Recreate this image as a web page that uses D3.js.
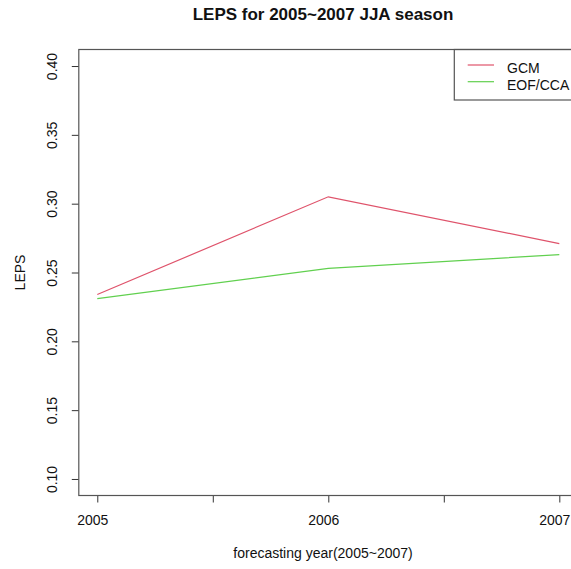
<!DOCTYPE html>
<html>
<head>
<meta charset="utf-8">
<script src="https://cdn.jsdelivr.net/npm/d3@7"></script>
<style>
  body { margin: 0; background: #fff; }
  svg { display: block; font-family: "Liberation Sans", Arial, sans-serif; }
</style>
</head>
<body>
<svg id="chart"></svg>
<script>
var years = [2005, 2006, 2007];
var gcm = [0.234, 0.305, 0.271];
var eofCca = [0.231, 0.253, 0.263];
var seriesNames = ["GCM", "EOF/CCA"];
var seriesColors = ["#DF536B", "#61D04F"];
var xTicks = [2005, 2005.5, 2006, 2006.5, 2007];
var yTicks = [0.10, 0.15, 0.20, 0.25, 0.30, 0.35, 0.40];

var width = 571;
var height = 569;
var margin = { top: 49.5, left: 78.8, bottom: 73.5 };
var plotRight = 577.8;

var svg = d3.select("#chart")
  .attr("width", width)
  .attr("height", height);

// R style 4% padding on both axes
var x = d3.scaleLinear()
  .domain([2005 - 0.08, 2007 + 0.08])
  .range([margin.left, plotRight]);
var y = d3.scaleLinear()
  .domain([0.088, 0.412])
  .range([height - margin.bottom, margin.top]);

var line = d3.line()
  .x(function(d) { return x(d[0]); })
  .y(function(d) { return y(d[1]); });

var series = [gcm, eofCca];
series.forEach(function(vals, i) {
  svg.append("path")
    .datum(years.map(function(yr, j) { return [yr, vals[j]]; }))
    .attr("fill", "none")
    .attr("stroke", seriesColors[i])
    .attr("stroke-width", 1.2)
    .attr("d", line);
});

// x axis
var xAxis = svg.append("g")
  .attr("transform", "translate(0," + (height - margin.bottom) + ")")
  .call(d3.axisBottom(x)
    .tickValues(xTicks)
    .tickSize(7)
    .tickPadding(13)
    .tickFormat(function(d) { return d % 1 === 0 ? d : ""; }));
xAxis.select(".domain").remove();
xAxis.selectAll("line").attr("stroke", "#333");
xAxis.selectAll("text")
  .attr("dx", -5)
  .attr("fill", "#111")
  .style("font-size", "14px");

// y axis
var yAxis = svg.append("g")
  .attr("transform", "translate(" + margin.left + ",0)")
  .call(d3.axisLeft(y)
    .tickValues(yTicks)
    .tickSize(7)
    .tickFormat(d3.format(".2f")));
yAxis.select(".domain").remove();
yAxis.selectAll("line").attr("stroke", "#333");
yAxis.selectAll("text")
  .attr("x", null)
  .attr("dy", null)
  .attr("fill", "#111")
  .style("font-size", "14px")
  .attr("text-anchor", "middle")
  .attr("transform", "translate(-22,0) rotate(-90)");

// plot box
svg.append("rect")
  .attr("x", margin.left)
  .attr("y", margin.top)
  .attr("width", plotRight - margin.left)
  .attr("height", height - margin.bottom - margin.top)
  .attr("fill", "none")
  .attr("stroke", "#555")
  .attr("stroke-width", 1.2);

// legend
var legend = svg.append("g").attr("transform", "translate(454.3," + margin.top + ")");
legend.append("rect")
  .attr("width", 140)
  .attr("height", 50.5)
  .attr("fill", "none")
  .attr("stroke", "#555")
  .attr("stroke-width", 1.2);
seriesNames.forEach(function(name, i) {
  var ly = 15.5 + i * 16.7;
  legend.append("line")
    .attr("x1", 13.4).attr("x2", 39.7)
    .attr("y1", ly).attr("y2", ly)
    .attr("stroke", seriesColors[i])
    .attr("stroke-width", 1.2);
  legend.append("text")
    .attr("x", 52.7)
    .attr("y", ly + 8)
    .attr("fill", "#111")
    .style("font-size", "14px")
    .text(name);
});

// titles
svg.append("text")
  .attr("x", 323)
  .attr("y", 20)
  .attr("text-anchor", "middle")
  .style("font-size", "17px")
  .style("font-weight", "bold")
  .attr("fill", "#111")
  .text("LEPS for 2005~2007 JJA season");

svg.append("text")
  .attr("x", 323)
  .attr("y", 558)
  .attr("text-anchor", "middle")
  .style("font-size", "14px")
  .attr("fill", "#111")
  .text("forecasting year(2005~2007)");

svg.append("text")
  .attr("transform", "translate(25," + ((margin.top + height - margin.bottom) / 2) + ") rotate(-90)")
  .attr("text-anchor", "middle")
  .style("font-size", "14px")
  .attr("fill", "#111")
  .text("LEPS");
</script>
</body>
</html>
